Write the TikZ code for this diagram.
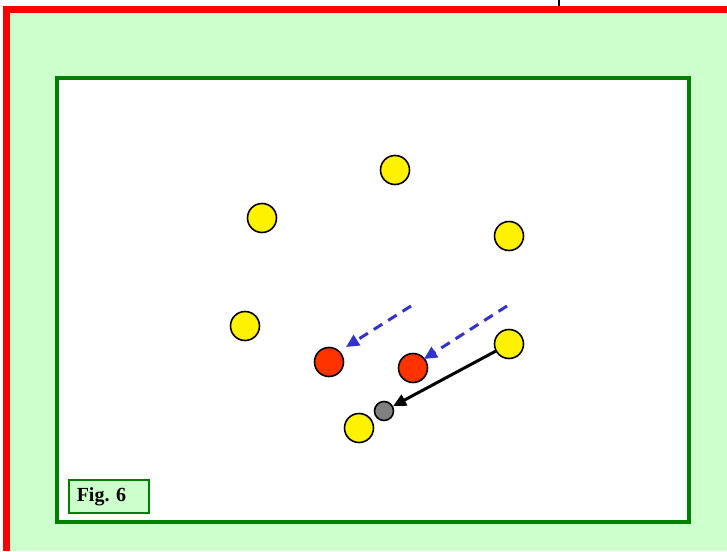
\documentclass[tikz,border=0pt]{standalone}
\usepackage{fontspec}
\setmainfont{Liberation Serif}
\usetikzlibrary{arrows.meta}
\definecolor{bgreen}{RGB}{204,255,204}
\definecolor{fgreen}{RGB}{0,128,0}
\definecolor{pred}{RGB}{255,51,0}
\definecolor{pblue}{RGB}{51,51,204}
\tikzset{
  yplayer/.style={circle,draw=black,line width=1.6pt,fill=yellow,minimum size=29pt,inner sep=0pt},
  rplayer/.style={circle,draw=black,line width=1.6pt,fill=pred,minimum size=29pt,inner sep=0pt},
  ball/.style={circle,draw=black,line width=1.6pt,fill=gray,minimum size=19pt,inner sep=0pt},
  run/.style={pblue,line width=3pt,dash pattern=on 10pt off 7pt,-{Triangle[length=13pt,width=12pt]}},
  pass/.style={black,line width=3pt,-{Triangle[length=13pt,width=12pt]}},
}
\begin{document}
\begin{tikzpicture}[x=1pt,y=-1pt]
\useasboundingbox (0,0) rectangle (727,551);
\fill[white] (0,0) rectangle (727,551);
\fill[bgreen] (3,6) rectangle (727,551);
\fill[red] (3,6) rectangle (727,13);
\fill[red] (3,6) rectangle (10,551);
\draw[black,line width=2pt] (559,0) -- (559,6);
\draw[fgreen,fill=white,line width=4pt] (57,78) rectangle (689,522);
\node[draw=fgreen,fill=bgreen,line width=1.5pt,anchor=west,text width=64pt,align=left,inner xsep=8pt,minimum height=33pt,inner ysep=0pt,font=\fontsize{20}{24}\selectfont\bfseries] (fig) at (68,496.5) {Fig.\ 6};
\node[yplayer] (y1) at (395,170) {};
\node[yplayer] (y2) at (262,218) {};
\node[yplayer] (y3) at (509,236) {};
\node[yplayer] (y4) at (245,326) {};
\node[yplayer] (y5) at (509,344) {};
\node[yplayer] (y6) at (359,428) {};
\node[rplayer] (r1) at (329,362) {};
\node[rplayer] (r2) at (413,368) {};
\node[ball] (b) at (384,411) {};
\coordinate (s1) at (411,306);
\coordinate (t1) at (346,347);
\coordinate (s2) at (507,306);
\coordinate (t2) at (424,359);
\draw[run] (s1) -- (t1);
\draw[run] (s2) -- (t2);
\draw[pass] (y5) -- (b);
\end{tikzpicture}
\end{document}
